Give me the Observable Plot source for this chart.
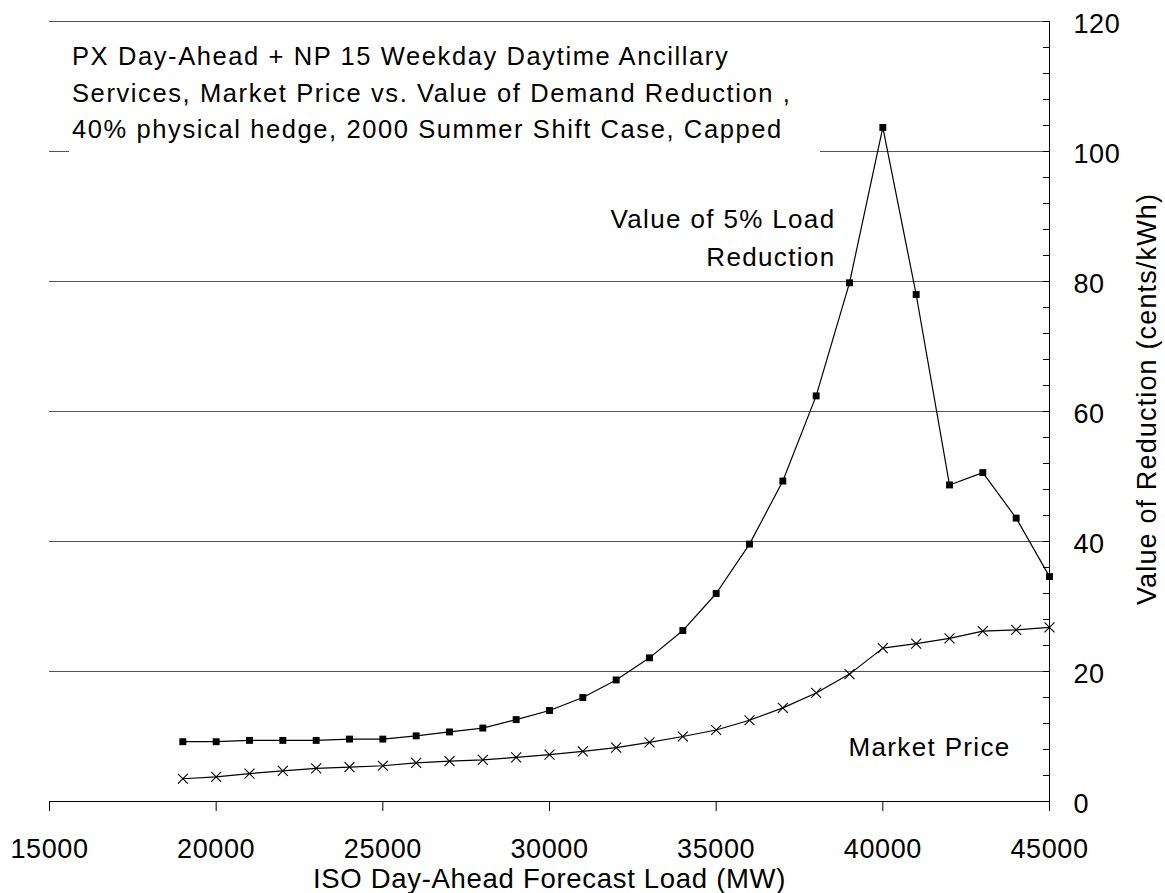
<!DOCTYPE html>
<html>
<head>
<meta charset="utf-8">
<script src="https://cdn.jsdelivr.net/npm/d3@7"></script>
<script src="https://cdn.jsdelivr.net/npm/@observablehq/plot@0.6"></script>
<style>
  body { margin: 0; background: #fff; }
  #chart { position: relative; width: 1165px; height: 893px; font-family: "Liberation Sans", Arial, sans-serif; }
  #chart svg { position: absolute; left: 0; top: 0; }
  #chart svg text { letter-spacing: 1.35px; }
  #chart svg g[aria-label$="tick label"] text { letter-spacing: 0.6px; }
  #title {
    position: absolute; left: 69px; top: 30px; width: 751px; height: 130px;
    background: #fff; color: #000; font-size: 25.5px; line-height: 36.7px; letter-spacing: 1.6px;
    padding: 8px 0 0 3px; box-sizing: border-box; white-space: nowrap; z-index: 1;
  }
</style>
</head>
<body>
<div id="chart"></div>
<script>
// ISO day-ahead forecast load (MW)
const loadMW = [19000, 20000, 21000, 22000, 23000, 24000, 25000, 26000, 27000, 28000,
  29000, 30000, 31000, 32000, 33000, 34000, 35000, 36000, 37000, 38000,
  39000, 40000, 41000, 42000, 43000, 44000, 45000];

// Value of a 5% load reduction (cents/kWh)
const valueOfReduction = [9.2, 9.2, 9.4, 9.4, 9.4, 9.6, 9.6, 10.1, 10.7, 11.3,
  12.6, 14.0, 16.0, 18.7, 22.1, 26.3, 32.0, 39.6, 49.3, 62.4,
  79.8, 103.7, 78.0, 48.7, 50.6, 43.6, 34.6];

// Market price (cents/kWh)
const marketPrice = [3.5, 3.8, 4.3, 4.7, 5.1, 5.3, 5.5, 5.95, 6.2, 6.4,
  6.8, 7.2, 7.7, 8.3, 9.1, 10.0, 11.0, 12.5, 14.4, 16.7,
  19.6, 23.6, 24.3, 25.1, 26.2, 26.4, 26.8];

// Axis ticks
const xTicks = [15000, 20000, 25000, 30000, 35000, 40000, 45000];
const yMajorTicks = [0, 20, 40, 60, 80, 100, 120];
const yMinorTicks = d3.range(0, 121, 4);
const gridValues = [20, 40, 60, 80, 100, 120];

// Texts
const titleLines = [
  "PX Day-Ahead + NP 15 Weekday Daytime Ancillary",
  "Services, Market Price vs. Value of Demand Reduction ,",
  "40% physical hedge, 2000 Summer Shift Case, Capped"
];
const xLabel = "ISO Day-Ahead Forecast Load (MW)";
const yLabel = "Value of Reduction (cents/kWh)";
const valueSeriesLabel = "Value of 5% Load\nReduction";
const priceSeriesLabel = "Market Price";
// Where the series names sit (load MW, cents/kWh)
const valueLabelAt = {load: 38580, cents: 87.2};
const priceLabelAt = {load: 38970, cents: 8.3};

const valueRows = loadMW.map((x, i) => ({x, y: valueOfReduction[i]}));
const priceRows = loadMW.map((x, i) => ({x, y: marketPrice[i]}));

const chart = Plot.plot({
  width: 1165,
  height: 893,
  marginLeft: 49,
  marginRight: 116,
  marginTop: 21,
  marginBottom: 92,
  style: {fontFamily: "'Liberation Sans', Arial, sans-serif", fontSize: "27px", background: "transparent", color: "#000"},
  x: {domain: [15000, 45000]},
  y: {domain: [0, 120]},
  marks: [
    Plot.gridY(gridValues, {stroke: "#555", strokeOpacity: 1, strokeWidth: 1}),
    Plot.ruleY([0], {stroke: "#000"}),
    Plot.ruleX([45000], {stroke: "#000"}),
    Plot.axisX(xTicks, {tickSize: 10, tickPadding: 27, tickFormat: d => String(d), label: null}),
    Plot.axisY(yMajorTicks, {anchor: "right", tickSize: 0, tickPadding: 24, dy: 3, label: null}),
    Plot.axisY(yMinorTicks, {anchor: "right", tickSize: 7, dx: -7, tickFormat: () => "", label: null}),
    Plot.line(valueRows, {x: "x", y: "y", stroke: "#000", strokeWidth: 1.2}),
    Plot.line(priceRows, {x: "x", y: "y", stroke: "#000", strokeWidth: 1.2}),
    Plot.dot(valueRows, {x: "x", y: "y", symbol: "square", r: 3.9, fill: "#000", stroke: "none"}),
    Plot.dot(priceRows, {x: "x", y: "y", symbol: "times", r: 4.6, stroke: "#000", strokeWidth: 1.1}),
    Plot.text([valueSeriesLabel], {x: () => valueLabelAt.load, y: () => valueLabelAt.cents, text: d => d,
      textAnchor: "end", lineAnchor: "middle", lineHeight: 1.45, fontSize: 26}),
    Plot.text([priceSeriesLabel], {x: () => priceLabelAt.load, y: () => priceLabelAt.cents, text: d => d,
      textAnchor: "start", lineAnchor: "middle", fontSize: 26}),
    Plot.text([xLabel], {frameAnchor: "bottom", dy: 86, lineAnchor: "bottom", textAnchor: "middle", fontSize: 27.5}),
    Plot.text([yLabel], {frameAnchor: "right", dx: 98, dy: -12.5, rotate: -90, textAnchor: "middle", lineAnchor: "middle", fontSize: 27})
  ]
});

// Axis titles use their own tracking
d3.select(chart).selectAll("text")
  .filter(function () { return this.textContent === xLabel; })
  .style("letter-spacing", "0.7px");
d3.select(chart).selectAll("text")
  .filter(function () { return this.textContent === yLabel; })
  .style("letter-spacing", "1.15px");

const host = document.getElementById("chart");
host.appendChild(chart);
const title = document.createElement("div");
title.id = "title";
title.innerHTML = titleLines.join("<br>");
host.appendChild(title);
</script>
</body>
</html>
